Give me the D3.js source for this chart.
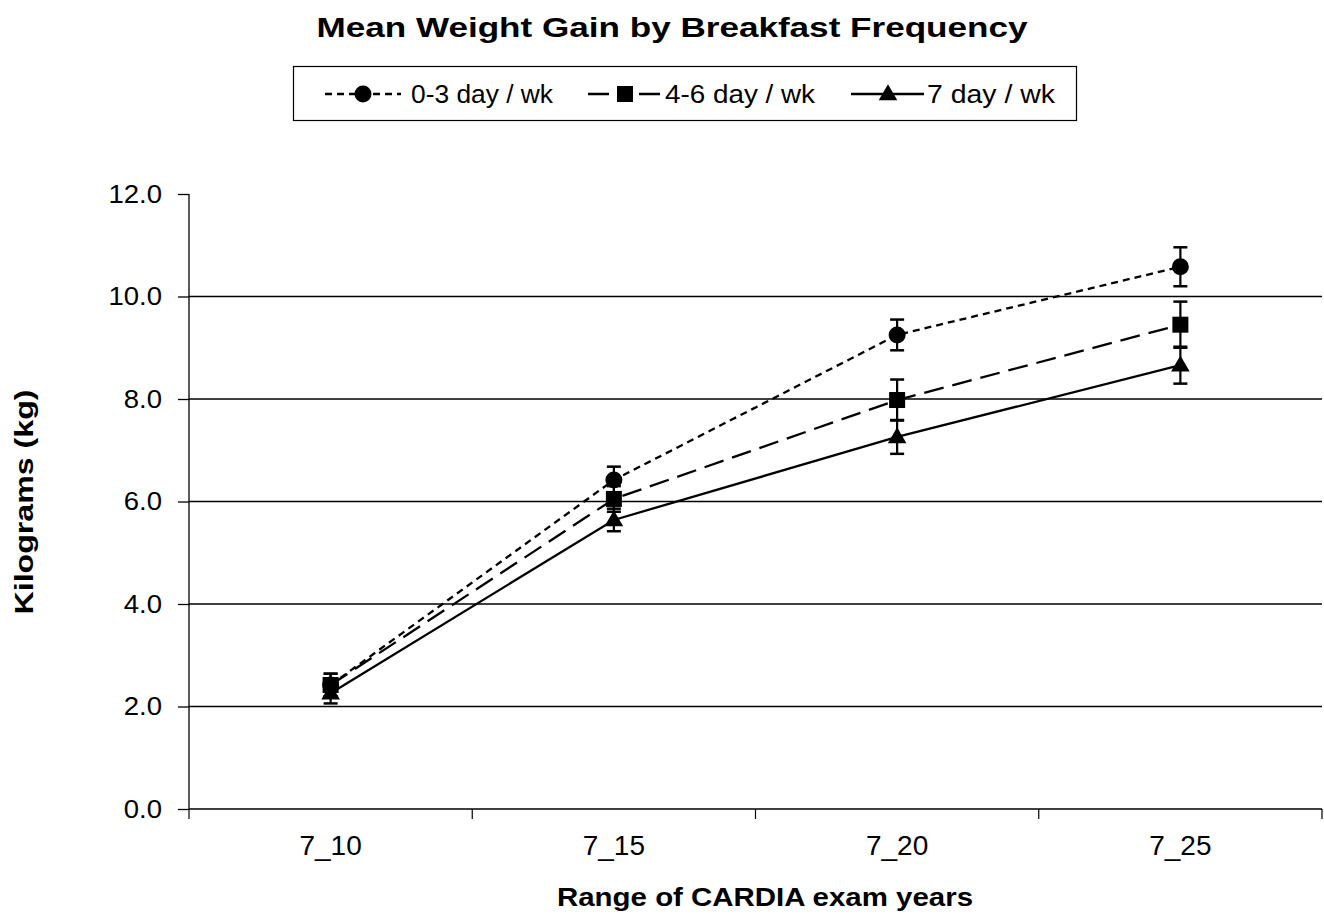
<!DOCTYPE html>
<html>
<head>
<meta charset="utf-8">
<script src="https://cdn.jsdelivr.net/npm/d3@7"></script>
<style>
  body { margin: 0; background: #fff; }
  text { font-family: "Liberation Sans", Arial, sans-serif; }
</style>
</head>
<body>
<div id="chart"></div>
<script>

// data
var examRanges = ["7_10", "7_15", "7_20", "7_25"];
var seriesNames = ["0-3 day / wk", "4-6 day / wk", "7 day / wk"];
var lowMeans = [2.42, 6.42, 9.25, 10.58];
var lowErrors = [0.22, 0.26, 0.30, 0.38];
var midMeans = [2.42, 6.05, 7.98, 9.45];
var midErrors = [0.22, 0.25, 0.40, 0.45];
var dailyMeans = [2.26, 5.64, 7.26, 8.66];
var dailyErrors = [0.20, 0.22, 0.33, 0.36];
var yTicks = [0, 2, 4, 6, 8, 10, 12];

var series = [
  {name: seriesNames[0], means: lowMeans, errors: lowErrors, dash: "7,5", legendDash: "7,5", marker: "circle"},
  {name: seriesNames[1], means: midMeans, errors: midErrors, dash: "20,9", legendDash: "21,30", marker: "square"},
  {name: seriesNames[2], means: dailyMeans, errors: dailyErrors, dash: null, legendDash: null, marker: "triangle"}
];

var width = 1324, height = 915;
var margin = {top: 194, bottom: 106, left: 189, right: 2};

var svg = d3.select("#chart").append("svg")
  .attr("width", width)
  .attr("height", height);

var x = d3.scaleBand()
  .domain(examRanges)
  .range([margin.left, width - margin.right]);

var y = d3.scaleLinear()
  .domain([0, 12])
  .range([height - margin.bottom, margin.top]);

// gridlines (not at 0 or 12)
svg.append("g")
  .selectAll("line")
  .data(yTicks.filter(function(d) { return d > 0 && d < 12; }))
  .enter().append("line")
  .attr("x1", margin.left)
  .attr("x2", width - margin.right)
  .attr("y1", function(d) { return y(d); })
  .attr("y2", function(d) { return y(d); })
  .attr("stroke", "#000")
  .attr("stroke-width", 1.3);

// y axis
var yAxis = d3.axisLeft(y)
  .tickValues(yTicks)
  .tickFormat(d3.format(".1f"))
  .tickSize(11);

var yg = svg.append("g")
  .attr("transform", "translate(" + margin.left + ",0)")
  .call(yAxis);
yg.select(".domain").attr("stroke-width", 1.3).attr("d", "M0," + y(12) + "V" + y(0));
yg.selectAll(".tick line").attr("stroke-width", 1.3);
yg.selectAll("text")
  .attr("x", 0)
  .attr("transform", "translate(-27,0) scale(1.1,1)")
  .style("font-size", "25px")
  .attr("fill", "#000");

// x axis with ticks on category boundaries
svg.append("line")
  .attr("x1", margin.left)
  .attr("x2", width - margin.right)
  .attr("y1", y(0))
  .attr("y2", y(0))
  .attr("stroke", "#000")
  .attr("stroke-width", 1.3);

var bounds = examRanges.map(function(d) { return x(d); }).concat([x(examRanges[3]) + x.bandwidth()]);
svg.append("g")
  .selectAll("line")
  .data(bounds)
  .enter().append("line")
  .attr("x1", function(d) { return d; })
  .attr("x2", function(d) { return d; })
  .attr("y1", y(0))
  .attr("y2", y(0) + 10)
  .attr("stroke", "#000")
  .attr("stroke-width", 1.2);

svg.append("g")
  .selectAll("text")
  .data(examRanges)
  .enter().append("text")
  .attr("x", function(d) { return x(d) + x.bandwidth() / 2; })
  .attr("y", 855)
  .attr("text-anchor", "middle")
  .style("font-size", "28px")
  .text(function(d) { return d; });

// titles
svg.append("text")
  .attr("x", 672)
  .attr("y", 37)
  .attr("text-anchor", "middle")
  .attr("textLength", 711)
  .attr("lengthAdjust", "spacingAndGlyphs")
  .style("font-size", "27px")
  .style("font-weight", "bold")
  .text("Mean Weight Gain by Breakfast Frequency");

svg.append("text")
  .attr("x", 765)
  .attr("y", 906)
  .attr("text-anchor", "middle")
  .attr("textLength", 416)
  .attr("lengthAdjust", "spacingAndGlyphs")
  .style("font-size", "25px")
  .style("font-weight", "bold")
  .text("Range of CARDIA exam years");

svg.append("text")
  .attr("transform", "translate(33,502) rotate(-90)")
  .attr("text-anchor", "middle")
  .attr("textLength", 225)
  .attr("lengthAdjust", "spacingAndGlyphs")
  .style("font-size", "26px")
  .style("font-weight", "bold")
  .text("Kilograms (kg)");

function drawMarker(g, type, cx, cy) {
  if (type === "circle") {
    g.append("circle").attr("cx", cx).attr("cy", cy).attr("r", 8.5).attr("fill", "#000");
  } else if (type === "square") {
    g.append("rect").attr("x", cx - 8).attr("y", cy - 8).attr("width", 16).attr("height", 16).attr("fill", "#000");
  } else {
    g.append("path")
      .attr("d", d3.symbol().type(d3.symbolTriangle).size(150)())
      .attr("transform", "translate(" + cx + "," + (cy + 1) + ")")
      .attr("fill", "#000");
  }
}

var line = d3.line()
  .x(function(d, i) { return x(examRanges[i]) + x.bandwidth() / 2; })
  .y(function(d) { return y(d); });

// lines, error bars, markers
series.forEach(function(s) {
  var g = svg.append("g");
  g.append("path")
    .attr("d", line(s.means))
    .attr("fill", "none")
    .attr("stroke", "#000")
    .attr("stroke-width", 2.3)
    .attr("stroke-dasharray", s.dash);

  s.means.forEach(function(m, i) {
    var cx = x(examRanges[i]) + x.bandwidth() / 2;
    var top = y(m + s.errors[i]), bot = y(m - s.errors[i]);
    g.append("line").attr("x1", cx).attr("x2", cx).attr("y1", top).attr("y2", bot)
      .attr("stroke", "#000").attr("stroke-width", 2.2);
    [top, bot].forEach(function(yy) {
      g.append("line").attr("x1", cx - 7).attr("x2", cx + 7).attr("y1", yy).attr("y2", yy)
        .attr("stroke", "#000").attr("stroke-width", 2.5);
    });
    drawMarker(g, s.marker, cx, y(m));
  });
});

// legend
var legend = svg.append("g");
legend.append("rect")
  .attr("x", 293.5).attr("y", 66.5)
  .attr("width", 783).attr("height", 54)
  .attr("fill", "#fff").attr("stroke", "#000").attr("stroke-width", 1.2);

var legendItems = [
  {x1: 325, x2: 401, mx: 363, tx: 411, tw: 142},
  {x1: 588, x2: 661, mx: 625, tx: 665, tw: 150},
  {x1: 851, x2: 924, mx: 888, tx: 927, tw: 128}
];

series.forEach(function(s, i) {
  var it = legendItems[i];
  var ly = 94;
  legend.append("line")
    .attr("x1", it.x1).attr("x2", it.x2).attr("y1", ly).attr("y2", ly)
    .attr("stroke", "#000").attr("stroke-width", 2.3)
    .attr("stroke-dasharray", s.legendDash);
  drawMarker(legend, s.marker, it.mx, ly);
  legend.append("text")
    .attr("x", it.tx).attr("y", ly + 9)
    .attr("textLength", it.tw)
    .attr("lengthAdjust", "spacingAndGlyphs")
    .style("font-size", "25px")
    .text(s.name);
});

</script>
</body>
</html>
